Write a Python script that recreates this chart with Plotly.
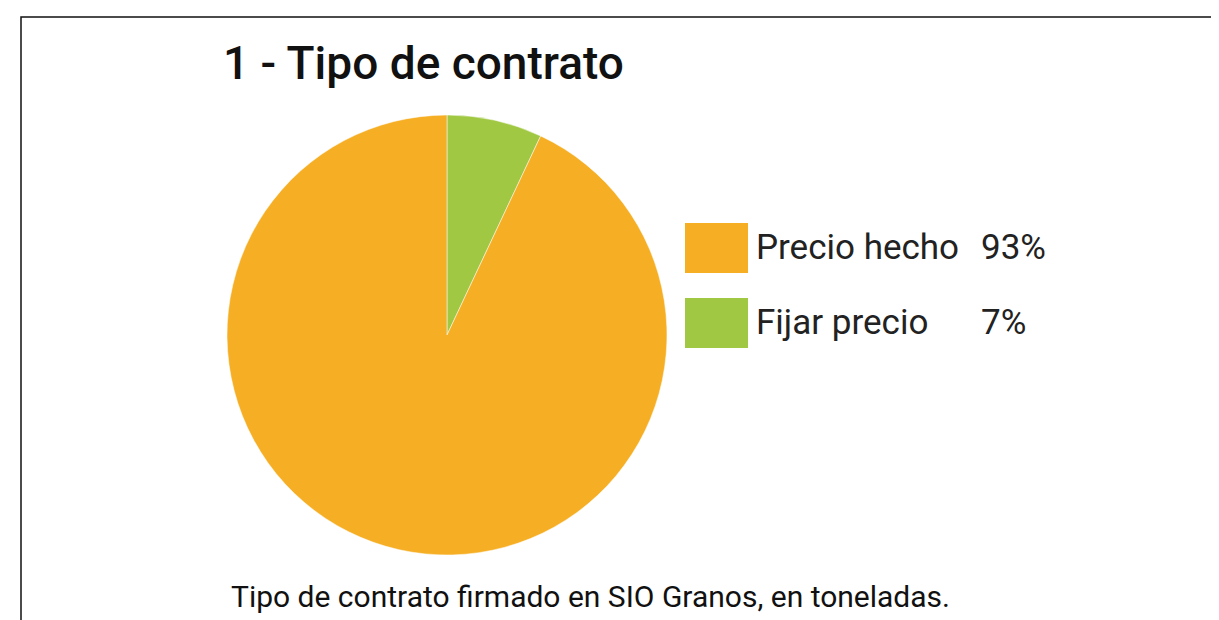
import plotly.graph_objects as go

W, H = 1219, 620
OFF = 8  # page body margin offset

title_text = "1 - Tipo de contrato"
caption_text = "Tipo de contrato firmado en SIO Granos, en toneladas."
labels = ["Precio hecho", "Fijar precio"]
values = [93, 7]
colors = ["#F6AF24", "#A0C843"]

def px(x):
    return (x - OFF) / W

def py(y):
    return 1 - (y - OFF) / H

# slices drawn clockwise from 12 o'clock: Fijar precio first
order = [1, 0]
fig = go.Figure()
fig.add_trace(go.Pie(
    labels=[labels[i] for i in order],
    values=[values[i] for i in order],
    sort=False,
    direction="clockwise",
    rotation=0,
    marker=dict(colors=[colors[i] for i in order], line=dict(color="white", width=0.5)),
    textinfo="none",
    hoverinfo="label+percent",
    showlegend=False,
    domain=dict(x=[px(227), px(667)], y=[py(555), py(115)]),
))

shapes = [
    dict(type="rect", xref="paper", yref="paper",
         x0=px(21), x1=px(1260), y0=py(680), y1=py(17),
         line=dict(color="#111111", width=1.5), fillcolor="rgba(0,0,0,0)", layer="below"),
]
annotations = [
    dict(text=title_text, x=px(221), y=py(63), xref="paper", yref="paper",
         xanchor="left", yanchor="middle", showarrow=False,
         font=dict(family="Roboto", size=46, color="#111111", weight=500)),
    dict(text=caption_text, x=px(229), y=py(596), xref="paper", yref="paper",
         xanchor="left", yanchor="middle", showarrow=False,
         font=dict(family="Roboto", size=30, color="#111111")),
]

total = sum(values)
legend_tops = [223, 298]
for lab, val, col, top in zip(labels, values, colors, legend_tops):
    shapes.append(dict(type="rect", xref="paper", yref="paper",
                       x0=px(685), x1=px(748), y0=py(top + 50), y1=py(top),
                       line=dict(width=0), fillcolor=col))
    annotations.append(dict(text=lab, x=px(754), y=py(top + 24), xref="paper", yref="paper",
                            xanchor="left", yanchor="middle", showarrow=False,
                            font=dict(family="Roboto", size=35, color="#222222")))
    annotations.append(dict(text=f"{round(100 * val / total)}%", x=px(979), y=py(top + 24),
                            xref="paper", yref="paper",
                            xanchor="left", yanchor="middle", showarrow=False,
                            font=dict(family="Roboto", size=35, color="#222222")))

fig.update_layout(
    width=W, height=H,
    margin=dict(l=0, r=0, t=0, b=0),
    paper_bgcolor="white",
    plot_bgcolor="white",
    shapes=shapes,
    annotations=annotations,
)

fig.write_html("out.html")
